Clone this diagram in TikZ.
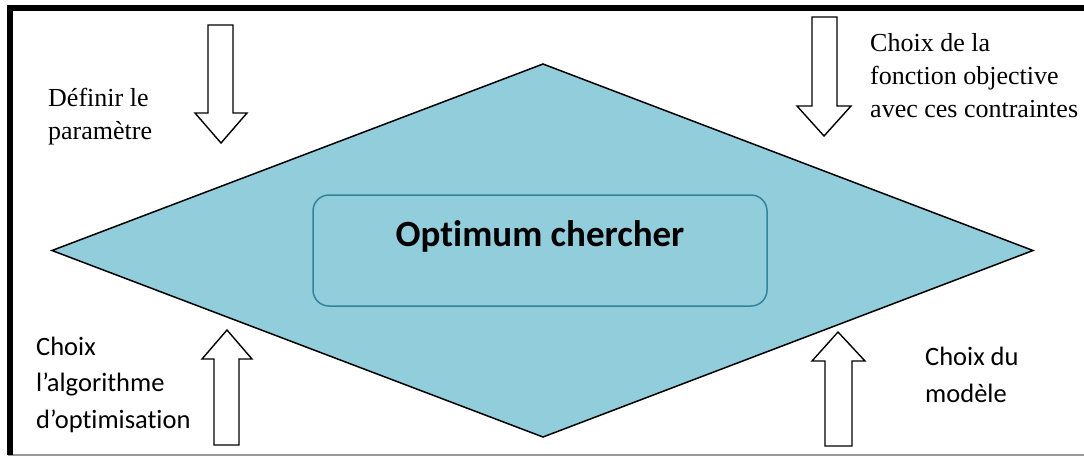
\documentclass[tikz,border=0pt]{standalone}
\usepackage{fontspec}
\setmainfont{Liberation Serif}
\newfontfamily\calibri{Carlito}[Ligatures=NoCommon]
\usepackage{tikz}
\definecolor{diamondblue}{HTML}{92CDDC}
\definecolor{boxteal}{HTML}{31849B}
\tikzset{
  frameline/.style  = {line width=5.5pt, line join=miter},
  bigdiamond/.style = {draw, fill=diamondblue, line width=1.5pt},
  optbox/.style     = {draw=boxteal, rounded corners=16pt, line width=1.5pt,
                       minimum width=454pt, minimum height=111pt, inner sep=0pt},
  blockarrow/.style = {draw, fill=white, line width=1.4pt},
  serifnote/.style  = {font=\fontsize{26}{33}\selectfont, align=left,
                       inner sep=0pt, anchor=base west},
  sansnote/.style   = {font=\calibri\fontsize{26.5}{36.5}\selectfont, align=left,
                       inner sep=0pt, anchor=base west}
}
\begin{document}
\begin{tikzpicture}[x=1pt,y=-1pt]
  \useasboundingbox (0,0) rectangle (1084,456);
  % frame
  \draw[gray!80, line width=2pt] (8,455) -- (1090,455);
  \draw[frameline] (10,455) -- (10,8) -- (1090,8);
  % diamond and centre box
  \draw[bigdiamond] (52,250.5) -- (543,64) -- (1033,250.5) -- (543,437) -- cycle;
  \node[optbox] (box) at (540,250.5) {};
  \node[font=\calibri\bfseries\fontsize{37}{44}\selectfont] (title) at (540,236)
        {Optimum chercher};
  % block arrows
  \draw[blockarrow] (208,25) -- (233,25) -- (233,113) -- (247,113) -- (221,143)
                    -- (195,113) -- (208,113) -- cycle;
  \draw[blockarrow] (812,17) -- (837,17) -- (837,106) -- (851,106) -- (824,136)
                    -- (797,106) -- (812,106) -- cycle;
  \draw[blockarrow] (214,445) -- (239,445) -- (239,359) -- (252,359) -- (227,330)
                    -- (202,359) -- (214,359) -- cycle;
  \draw[blockarrow] (825,446) -- (852,446) -- (852,361) -- (865,361) -- (838,332)
                    -- (812,361) -- (825,361) -- cycle;
  % labels (anchored on the last line's baseline)
  \node[serifnote] (param) at (48,139) {Définir le\\paramètre};
  \node[serifnote] (objfun) at (870,117)
        {Choix de la\\fonction objective\\avec ces contraintes};
  \node[sansnote] (algo) at (36,428) {Choix\\l’algorithme\\d’optimisation};
  \node[sansnote] (model) at (925,402) {Choix du\\modèle};
\end{tikzpicture}
\end{document}
